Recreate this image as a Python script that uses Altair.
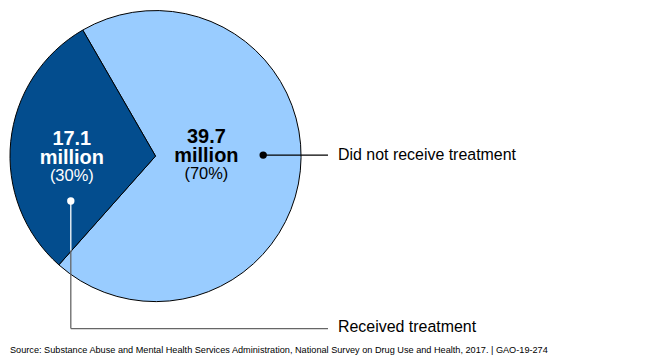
import math
import altair as alt
import pandas as pd

# ---------------- data ----------------
categories = ["Did not receive treatment", "Received treatment"]
values_millions = [39.7, 17.1]
shares_pct = [70, 30]
slice_colors = ["#99ccff", "#034d8e"]
label_colors = ["#000000", "#ffffff"]
source_text = ("Source: Substance Abuse and Mental Health Services Administration, "
               "National Survey on Drug Use and Health, 2017.  |  GAO-19-274")

# ---------------- layout (page pixels, chart origin at 8,8) ----------------
W, H = 634, 344
OFF = 8
CX, CY, R = 154 - OFF, 154 - OFF, 146
START = -math.pi / 6  # light slice begins at 11 o'clock
FONT = "Liberation Sans"

# centre x of each value label and baselines of its three lines
label_cx = [205, 70]
label_baselines = [[141, 160, 177], [143, 162, 179]]

# callout: dot position, label text position
callout_dots = [(262, 153, "#000000"), (69, 199, "#ffffff")]
callout_segments = [
    (262, 153, 327, 153, "#000000"),
    (69, 199, 69, 249, "#ffffff"),
    (69, 249, 69, 327, "#666666"),
    (69, 327, 327, 327, "#666666"),
]
callout_labels = [(337, 153), (337, 325)]

xs = alt.Scale(domain=[0, W], range=[0, W])
ys = alt.Scale(domain=[0, H], range=[0, H])

pie_df = pd.DataFrame({
    "category": categories,
    "value": values_millions,
    "share": shares_pct,
    "order": list(range(len(categories))),
})

pie = alt.Chart(pie_df).mark_arc(
    outerRadius=R, stroke="#000000", strokeWidth=1
).encode(
    theta=alt.Theta("value:Q", stack=True,
                    scale=alt.Scale(range=[START + 2 * math.pi, START + 4 * math.pi])),
    color=alt.Color("category:N", scale=alt.Scale(domain=categories, range=slice_colors), legend=None),
    order=alt.Order("order:Q"),
    x=alt.value(CX),
    y=alt.value(CY),
)

# value labels
rows = []
for i, cat in enumerate(categories):
    lines = [(f"{values_millions[i]:.1f}", "bold", 20),
             ("million", "bold", 20),
             (f"({shares_pct[i]}%)", "normal", 16.5)]
    for j, (txt, weight, size) in enumerate(lines):
        rows.append({"x": label_cx[i] - OFF, "y": label_baselines[i][j] - OFF,
                     "text": txt, "weight": weight, "size": size, "color": label_colors[i]})
lab_df = pd.DataFrame(rows)

def text_layer(df, weight):
    return alt.Chart(df).mark_text(font=FONT, align="center", baseline="alphabetic",
                                   fontWeight=weight).encode(
        x=alt.X("x:Q", scale=xs, axis=None),
        y=alt.Y("y:Q", scale=ys, axis=None),
        text="text:N",
        color=alt.Color("color:N", scale=None),
        size=alt.Size("size:Q", scale=None),
    )

bold_labels = text_layer(lab_df[lab_df.weight == "bold"], "bold")
norm_labels = text_layer(lab_df[lab_df.weight == "normal"], "normal")

seg_df = pd.DataFrame([{"x": a - OFF, "y": b - OFF, "x2": c - OFF, "y2": d - OFF, "color": col}
                       for a, b, c, d, col in callout_segments])
segs = alt.Chart(seg_df).mark_rule(strokeWidth=1.3).encode(
    x=alt.X("x:Q", scale=xs, axis=None), y=alt.Y("y:Q", scale=ys, axis=None),
    x2="x2:Q", y2="y2:Q", color=alt.Color("color:N", scale=None),
)

dot_df = pd.DataFrame([{"x": a - OFF, "y": b - OFF, "color": col} for a, b, col in callout_dots])
dots = alt.Chart(dot_df).mark_circle(size=55, opacity=1).encode(
    x=alt.X("x:Q", scale=xs, axis=None), y=alt.Y("y:Q", scale=ys, axis=None),
    color=alt.Color("color:N", scale=None),
)

cl_df = pd.DataFrame([{"x": a - OFF, "y": b - OFF, "text": categories[i]}
                      for i, (a, b) in enumerate(callout_labels)])
cl = alt.Chart(cl_df).mark_text(font=FONT, fontSize=16, align="left", baseline="middle",
                                color="#000000").encode(
    x=alt.X("x:Q", scale=xs, axis=None), y=alt.Y("y:Q", scale=ys, axis=None), text="text:N",
)

src_df = pd.DataFrame([{"x": 0, "y": 349 - OFF, "text": source_text}])
src = alt.Chart(src_df).mark_text(font=FONT, fontSize=9.2,
                                  align="left", baseline="middle", color="#000000").encode(
    x=alt.X("x:Q", scale=xs, axis=None), y=alt.Y("y:Q", scale=ys, axis=None), text="text:N",
)

chart = alt.layer(pie, segs, dots, bold_labels, norm_labels, cl, src).properties(
    width=W, height=H, padding=0,
).configure_view(stroke=None)

chart.save("out.html", embed_options={"renderer": "svg", "actions": False})
